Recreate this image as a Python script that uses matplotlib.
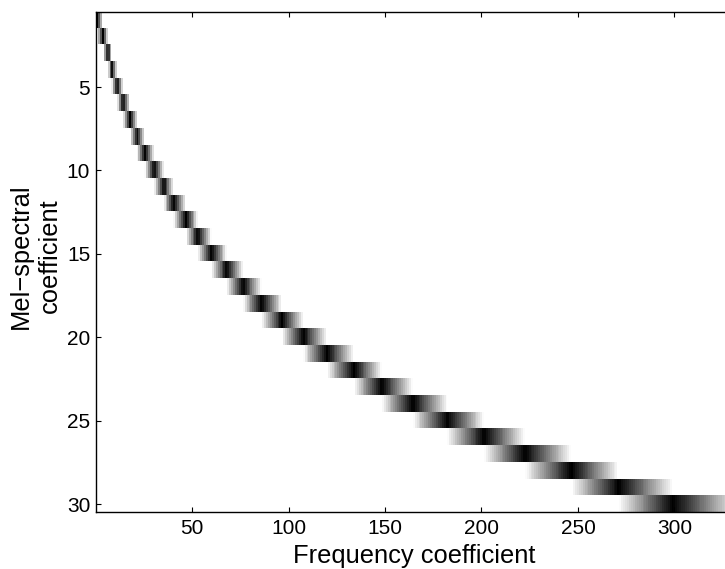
import matplotlib.pyplot as plt
import numpy as np
from matplotlib.colors import ListedColormap

# Filter edge/centre positions (frequency bins).
# Filter k rises from edges[k-1], peaks at edges[k], falls to edges[k+1].
edges = [-1.5, 1.0, 4.0, 6.5, 8.8, 11.6, 14.5, 18.0, 21.8, 25.9, 30.6,
         35.5, 40.8, 47.0, 53.4, 60.2, 68.3, 76.6, 86.2, 96.9, 107.7,
         120.0, 134.0, 148.4, 164.5, 182.5, 201.5, 222.6, 246.7, 271.2,
         299.2, 333.0]
n_bins = 340
x_ticks = [50, 100, 150, 200, 250, 300]
y_ticks = [5, 10, 15, 20, 25, 30]

# Build the filterbank matrix from the edges
n_filters = len(edges) - 2
bins = np.arange(1, n_bins + 1)
fbank = np.zeros((n_filters, n_bins))
for k in range(n_filters):
    lo, mid, hi = edges[k], edges[k + 1], edges[k + 2]
    up = (bins - lo) / (mid - lo)
    down = (hi - bins) / (hi - mid)
    fbank[k] = np.clip(np.minimum(up, down), 0, 1)

# 64 level inverted gray colormap
cmap = ListedColormap(plt.get_cmap("gray_r")(np.linspace(0, 1, 64)))

plt.rcParams["font.family"] = ["Liberation Sans", "DejaVu Sans"]

fig = plt.figure(figsize=(7.25, 5.69), dpi=100)
ax = fig.add_axes([0.1331, 0.0993, 0.8669, 0.8796])
ax.imshow(fbank, cmap=cmap, aspect="auto", interpolation="nearest",
          extent=(0.5, n_bins + 0.5, n_filters + 0.5, 0.5), vmin=0, vmax=1)
ax.set_xlim(0.5, 326.2)
ax.set_ylim(n_filters + 0.5, 0.5)

ax.set_xticks(x_ticks)
ax.set_yticks(y_ticks)
ax.tick_params(direction="in", length=3.6, width=0.8, labelsize=15,
               top=True, right=False)
ax.tick_params(axis="x", pad=4.5)
ax.tick_params(axis="y", pad=4.5)
ax.spines["right"].set_visible(False)
for s in ["left", "top", "bottom"]:
    ax.spines[s].set_linewidth(1.0)

fig.text(414 / 725, 5.7 / 569, "Frequency coefficient", ha="center",
         va="baseline", fontsize=18.4)
fig.text(35.5 / 725, 1 - 256 / 569, "Mel\u2212spectral\ncoefficient",
         ha="center", va="center", rotation=90, fontsize=18.4,
         linespacing=1.3, multialignment="center")

fig.savefig("out.png", dpi=100)
